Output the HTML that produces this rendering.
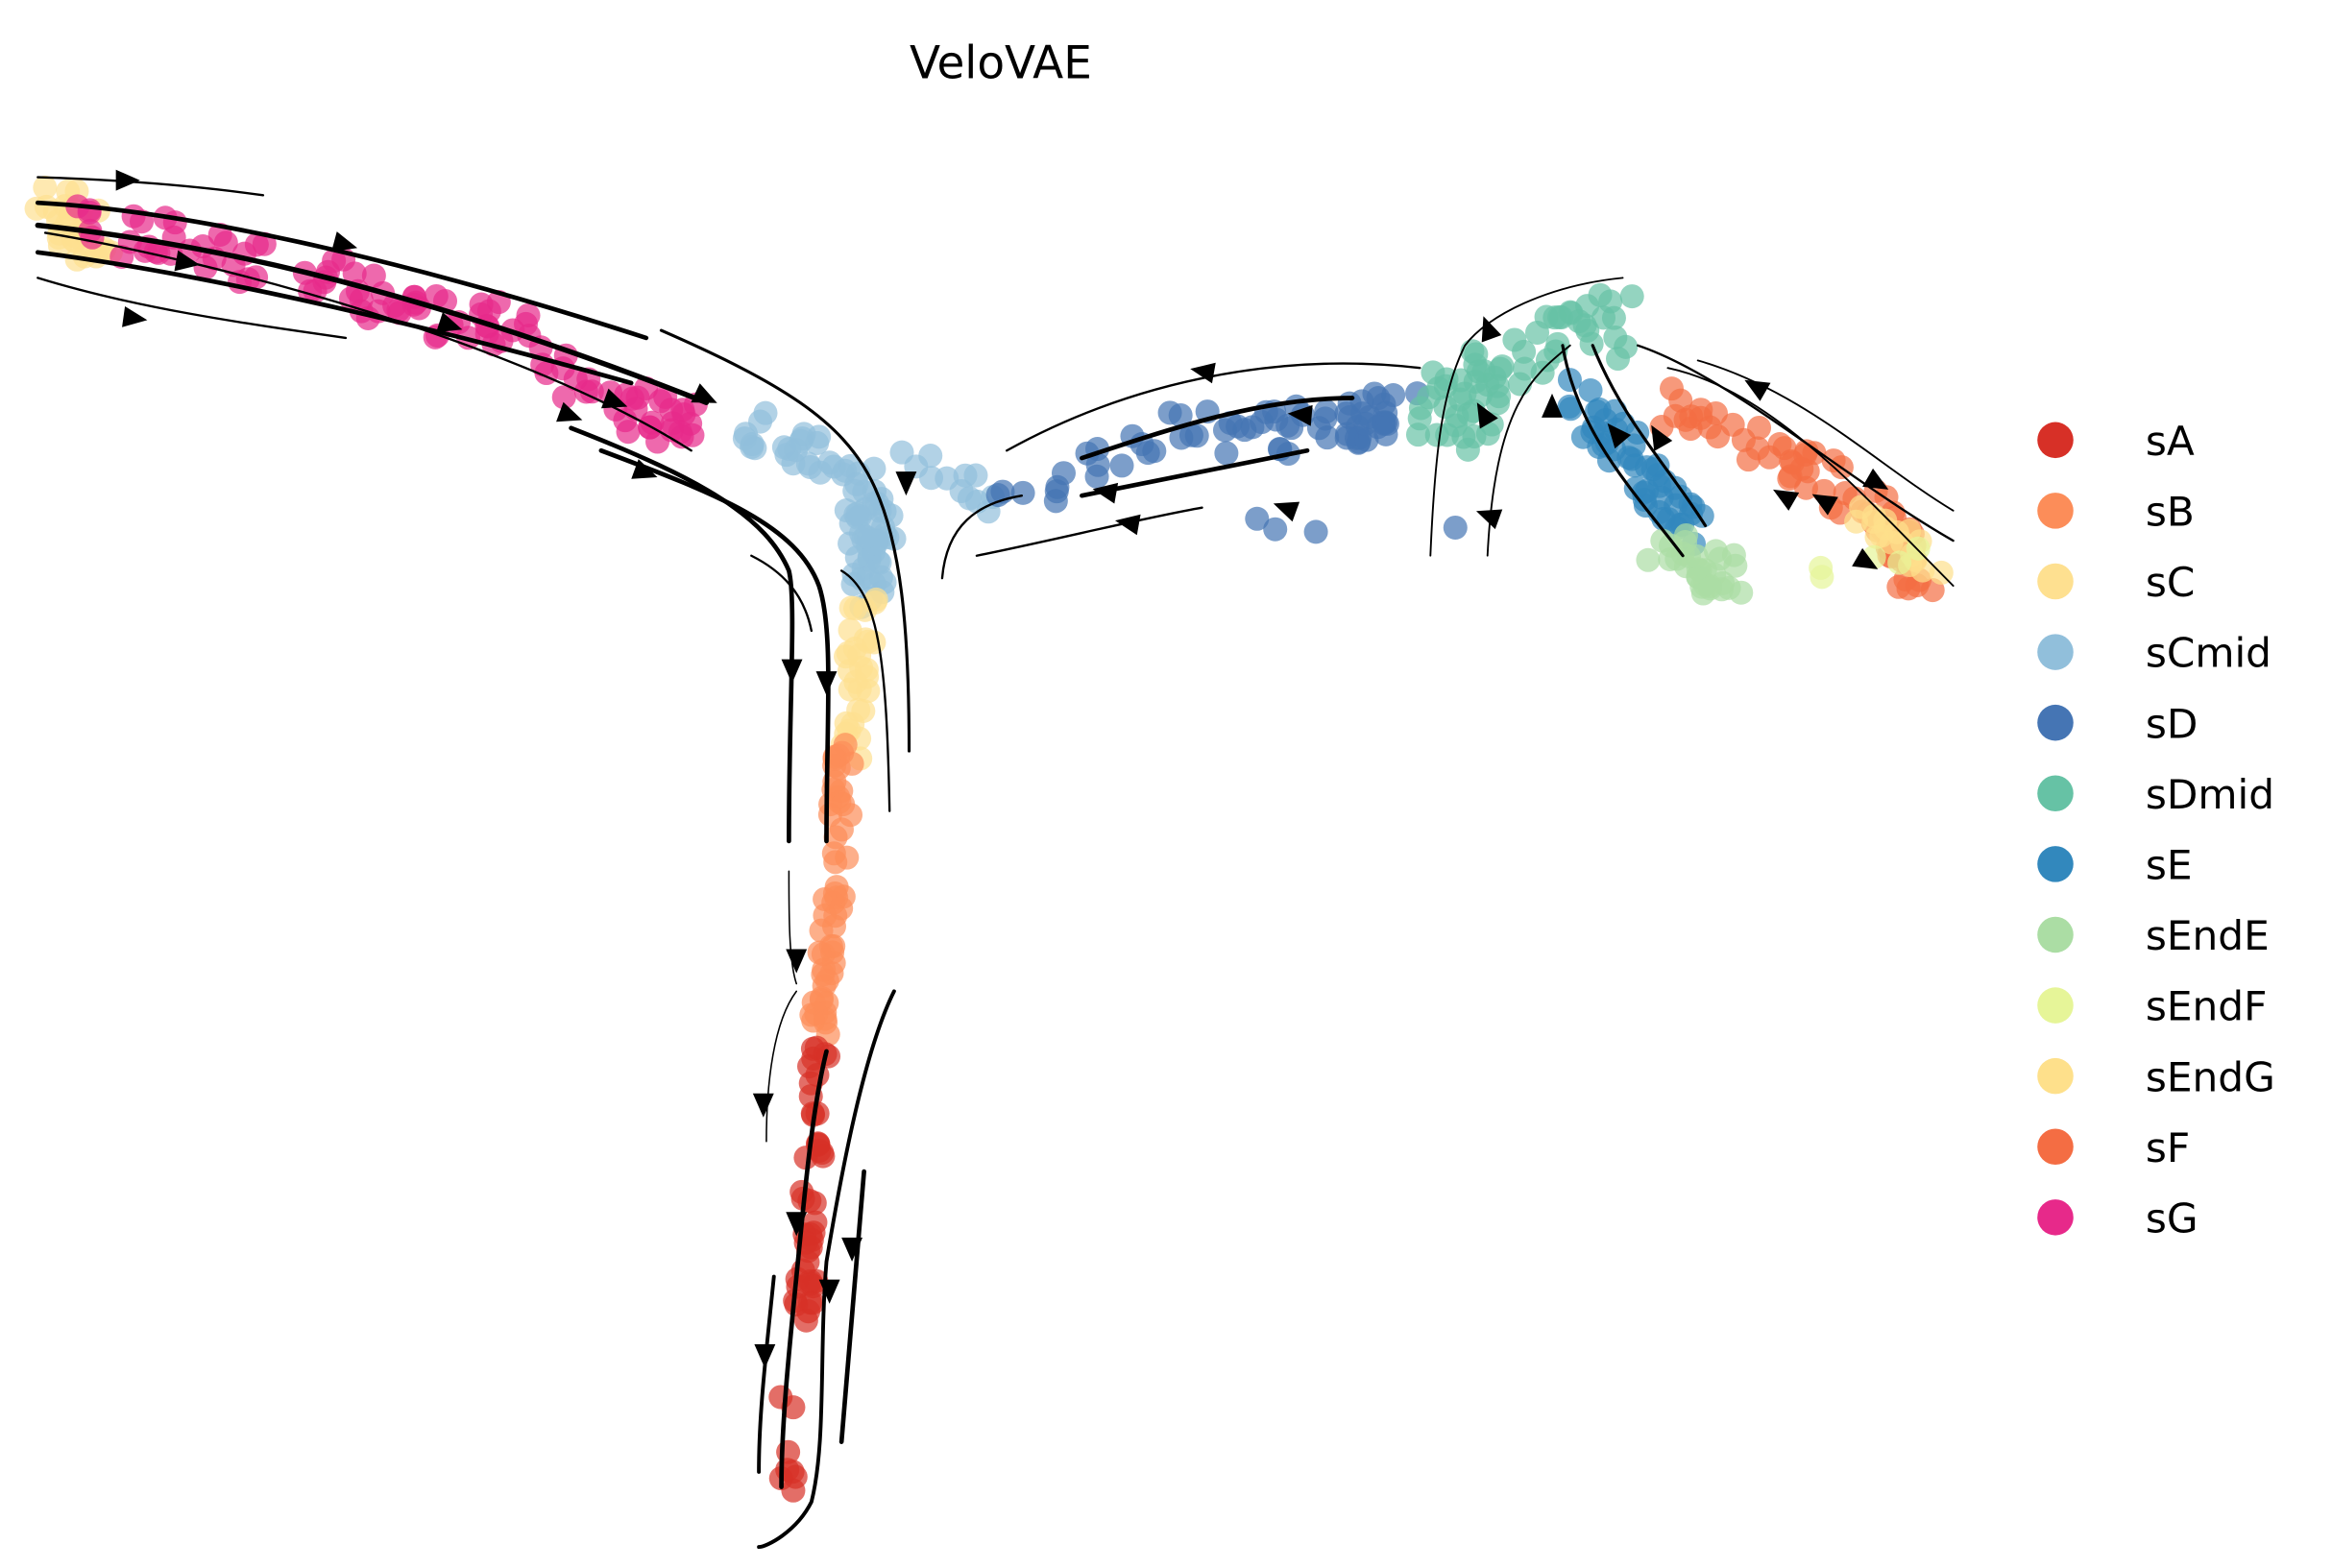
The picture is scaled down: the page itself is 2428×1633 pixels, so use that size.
<!DOCTYPE html>
<html><head><meta charset="utf-8"><style>
html,body{margin:0;padding:0;background:#fff;}
svg{display:block;}
text{font-family:"DejaVu Sans","Liberation Sans",sans-serif;fill:#000;}
</style></head><body>
<svg id="s" width="2428" height="1633" viewBox="0 0 1552 1044" xmlns="http://www.w3.org/2000/svg">
<text x="666" y="52" font-size="30" text-anchor="middle">VeloVAE</text>
<g id="pts"></g>
<g id="lines" fill="none" stroke="#000" stroke-linecap="round">
<path d="M25,118 C90,120 140,125 175,130" stroke-width="1.5"/>
<path d="M25,135 C120,140 260,170 430,225" stroke-width="3"/>
<path d="M25,150 C120,160 260,185 470,268" stroke-width="3.5"/>
<path d="M25,168 C120,180 260,210 420,255" stroke-width="3"/>
<path d="M25,185 C90,205 160,215 230,225" stroke-width="1.5"/>
<path d="M30,155 C150,175 350,230 460,300" stroke-width="1.5"/>
<path d="M440,220 C520,255 560,280 580,320 C600,360 605,420 605,500" stroke-width="2"/>
<path d="M400,300 C480,330 530,350 545,390 C555,420 550,480 550,560" stroke-width="3"/>
<path d="M380,285 C470,320 510,345 525,380 C530,400 525,470 525,560" stroke-width="3"/>
<path d="M500,370 C520,380 535,395 540,420" stroke-width="1.5"/>
<path d="M560,380 C585,395 590,440 592,540" stroke-width="1.5"/>
<path d="M945,245 C860,235 760,250 670,300" stroke-width="1.5"/>
<path d="M900,265 C840,265 780,285 720,305" stroke-width="3"/>
<path d="M870,300 C820,310 770,320 720,330" stroke-width="3"/>
<path d="M800,338 C760,345 700,360 650,370" stroke-width="1.5"/>
<path d="M680,330 C650,335 630,350 627,385" stroke-width="1.5"/>
<path d="M1080,185 C1030,190 990,210 975,230 C960,260 955,300 952,370" stroke-width="1.2"/>
<path d="M1045,230 C1020,250 995,270 990,370" stroke-width="1.2"/>
<path d="M1040,230 C1050,290 1090,330 1120,370" stroke-width="2"/>
<path d="M1060,230 C1080,280 1110,310 1135,350" stroke-width="2"/>
<path d="M1090,230 C1150,250 1230,320 1300,360" stroke-width="1.5"/>
<path d="M1110,245 C1180,260 1240,330 1300,390" stroke-width="1.2"/>
<path d="M1130,240 C1200,260 1250,310 1300,340" stroke-width="1.2"/>
<path d="M525,580 C525,610 525,640 530,655" stroke-width="1"/>
<path d="M530,660 C515,680 510,720 510,760" stroke-width="1"/>
<path d="M595,660 C575,700 560,780 550,840 C545,900 550,960 540,1000 C530,1020 510,1030 505,1030" stroke-width="2.5"/>
<path d="M550,700 C540,740 535,800 530,850 C525,900 520,950 520,990" stroke-width="3"/>
<path d="M575,780 C570,840 565,900 560,960" stroke-width="3"/>
<path d="M515,850 C510,900 505,940 505,980" stroke-width="2.5"/>
</g>
<g id="arr" fill="#000"></g>
<g id="leg"></g>
</svg>
<script>
var seed=7;function r(){seed=(seed*16807)%2147483647;return seed/2147483647;}
var C={sA:"#d73027",sB:"#fc8d59",sC:"#fee090",sCmid:"#91bfdb",sD:"#4575b4",sDmid:"#66c2a5",sE:"#3288bd",sEndE:"#abdda4",sEndF:"#e6f598",sEndG:"#fee08b",sF:"#f46d43",sG:"#e7298a"};
var segs=[
["sC",[[30,135],[70,165]],18,30],
["sG",[[55,150],[200,180],[330,220],[470,295]],16,110],
["sCmid",[[490,285],[560,310],[590,370]],18,45],
["sCmid",[[575,330],[578,400]],12,30],
["sCmid",[[600,300],[660,340]],12,12],
["sC",[[575,395],[568,500]],9,30],
["sB",[[562,500],[555,600],[545,690]],7,55],
["sA",[[545,695],[540,790],[535,880]],7,45],
["sA",[[525,925],[525,1015]],6,8],
["sD",[[670,330],[780,290],[880,285],[940,270]],16,70],
["sD",[[830,335],[860,360],[975,352]],8,4],
["sDmid",[[955,285],[1000,245],[1075,210]],22,65],
["sE",[[1045,260],[1085,300],[1125,355]],14,50],
["sEndE",[[1105,360],[1150,385]],14,30],
["sF",[[1095,265],[1180,300],[1260,350],[1275,395]],14,70],
["sEndG",[[1240,340],[1285,375]],12,18],
["sEndF",[[1205,385],[1275,370]],6,5]
];
var g=document.getElementById("pts"),h="";
segs.forEach(function(s){var p=s[1];for(var i=0;i<s[3];i++){var t=r()*(p.length-1),k=Math.min(Math.floor(t),p.length-2),f=t-k;
var x=p[k][0]+(p[k+1][0]-p[k][0])*f+(r()-.5)*2*s[2],y=p[k][1]+(p[k+1][1]-p[k][1])*f+(r()-.5)*2*s[2];
h+='<circle cx="'+x.toFixed(1)+'" cy="'+y.toFixed(1)+'" r="8" fill="'+C[s[0]]+'" fill-opacity="0.7"/>';}});
g.innerHTML=h;
var A=[[85,120,0],[230,163,15],[125,175,10],[90,212,8],[300,217,18],[410,268,20],[470,265,25],[380,277,20],[430,315,20],[603,322,90],[527,447,90],[550,455,90],[800,247,190],[865,276,185],[735,327,190],[750,348,190],[855,338,200],[990,343,200],[990,218,250],[987,275,240],[1033,270,270],[1075,288,230],[1103,290,240],[1168,257,210],[1250,322,30],[1187,330,210],[1213,333,210],[1243,375,30],[530,640,90],[508,736,90],[530,815,90],[567,832,90],[552,860,90],[509,903,90]];
var ah="";A.forEach(function(a){ah+='<path transform="translate('+a[0]+','+a[1]+') rotate('+a[2]+')" d="M8,0L-8,-7L-8,7z"/>';});
document.getElementById("arr").innerHTML=ah;
var L=["sA","sB","sC","sCmid","sD","sDmid","sE","sEndE","sEndF","sEndG","sF","sG"],lh="";
L.forEach(function(n,i){var y=293+47.05*i;lh+='<circle cx="1368" cy="'+y+'" r="12" fill="'+C[n]+'"/><text x="1428" y="'+(y+10)+'" font-size="27">'+n+'</text>';});
document.getElementById("leg").innerHTML=lh;
</script>
</body></html>
